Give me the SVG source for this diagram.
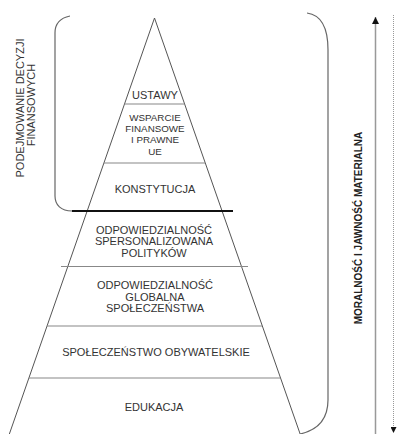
<svg xmlns="http://www.w3.org/2000/svg" width="397" height="434" viewBox="0 0 397 434">
<defs>
<style>
.t{font-family:"Liberation Sans",Arial,sans-serif;font-size:11px;fill:#333;text-anchor:middle}
.s{font-size:9.8px}
.b{font-weight:bold;font-size:10px;fill:#222}
.edge{fill:none;stroke:#555;stroke-width:1}
.sep{stroke:#888;stroke-width:1.2;fill:none}
.brace{fill:none;stroke:#666;stroke-width:1.2}
</style>
<marker id="up" viewBox="0 0 10 10" refX="5" refY="0" markerWidth="7" markerHeight="9" markerUnits="userSpaceOnUse" orient="0">
<path d="M0,10 L5,0 L10,10 Z" fill="#111"/>
</marker>
<marker id="down" viewBox="0 0 10 10" refX="5" refY="10" markerWidth="6" markerHeight="8" markerUnits="userSpaceOnUse" orient="0">
<path d="M0,0 L10,0 L5,10 Z" fill="#111"/>
</marker>
</defs>
<rect width="397" height="434" fill="#fff"/>
<g id="pyramid">
<path class="edge" d="M9,435 L154.5,18 L300.5,435"/>
<line class="sep" x1="124.5" y1="104" x2="184.5" y2="104"/>
<line class="sep" x1="104" y1="163" x2="205" y2="163"/>
<line class="sep" x1="61" y1="266.5" x2="248" y2="266.5"/>
<line class="sep" x1="47" y1="326" x2="262" y2="326"/>
<line class="sep" x1="29" y1="378" x2="280" y2="378"/>
</g>
<g id="level-ustawy"><text class="t" x="155" y="99">USTAWY</text></g>
<g id="level-wsparcie">
<text class="t s" x="155" y="120.5">WSPARCIE</text>
<text class="t s" x="155" y="132">FINANSOWE</text>
<text class="t s" x="155" y="143.2">I PRAWNE</text>
<text class="t s" x="155" y="154.5">UE</text>
</g>
<g id="level-konstytucja"><text class="t" x="155" y="192.5">KONSTYTUCJA</text></g>
<g id="level-odp-pol">
<text class="t" x="154" y="233.5">ODPOWIEDZIALNOŚĆ</text>
<text class="t" x="154" y="245">SPERSONALIZOWANA</text>
<text class="t" x="154" y="256.5">POLITYKÓW</text>
</g>
<g id="level-odp-spol">
<text class="t" x="155" y="289">ODPOWIEDZIALNOŚĆ</text>
<text class="t" x="155" y="300.5">GLOBALNA</text>
<text class="t" x="155" y="312">SPOŁECZEŃSTWA</text>
</g>
<g id="level-spoleczenstwo"><text class="t" x="156" y="356">SPOŁECZEŃSTWO OBYWATELSKIE</text></g>
<g id="level-edukacja"><text class="t" x="154" y="411">EDUKACJA</text></g>
<g id="left-brace">
<path class="brace" d="M70,16 C60,18 55,24 55,33 L55,196 C55,205 61,211 72,211"/>
<text class="t" transform="translate(24,108) rotate(-90)" font-size="10.3">PODEJMOWANIE DECYZJI</text>
<text class="t" transform="translate(35,105) rotate(-90)" font-size="10.3">FINANSOWYCH</text>
</g>
<g id="right-brace">
<path class="brace" d="M307,13 C322,15 328,30 328,50 L328,400 C328,420 318,430 300,434"/>
</g>
<g id="axis-label"><text class="t b" transform="translate(362,228) rotate(-90)">MORALNOŚĆ I JAWNOŚĆ MATERIALNA</text></g>
<g id="connectors">
<line x1="72" y1="211" x2="233" y2="211" stroke="#111" stroke-width="2"/>
<line x1="375.5" y1="434" x2="375.5" y2="17" stroke="#999" stroke-width="1.5" marker-end="url(#up)"/>
<line x1="393.5" y1="15" x2="393.5" y2="433" stroke="#999" stroke-width="1" stroke-dasharray="1,1" marker-end="url(#down)"/>
</g>
</svg>
